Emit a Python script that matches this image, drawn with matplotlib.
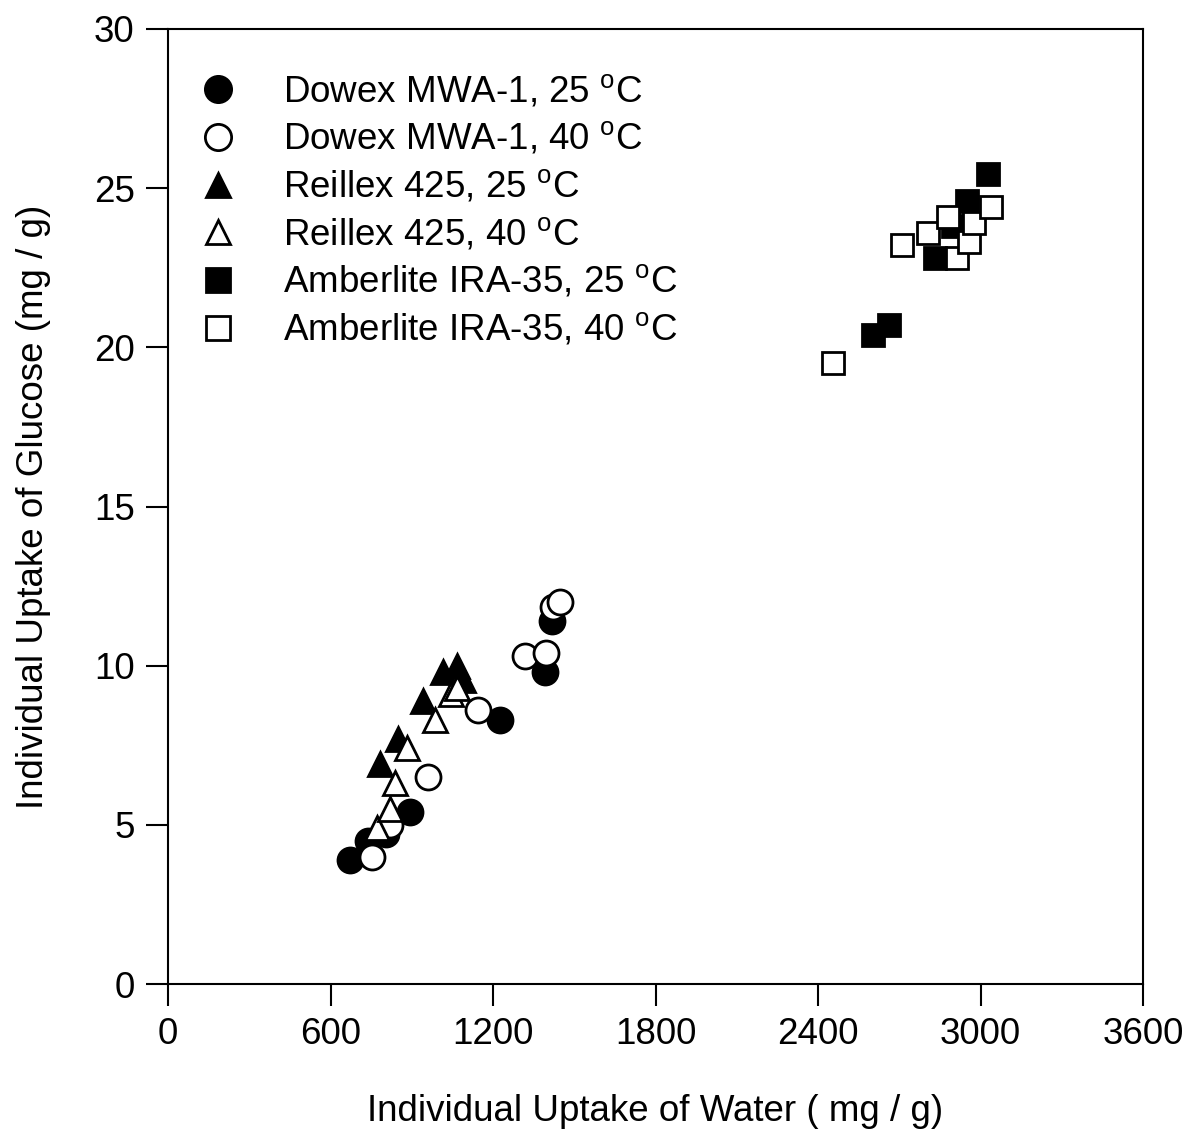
import matplotlib
matplotlib.use("Agg")
import matplotlib.pyplot as plt

plt.rcParams['font.family'] = ['Liberation Sans', 'DejaVu Sans']
plt.rcParams['mathtext.fontset'] = 'custom'
plt.rcParams['mathtext.rm'] = 'Liberation Sans'

# Water uptake (mg/g) vs glucose uptake (mg/g)
dowex25_x = [672, 740, 805, 893, 1226, 1392, 1418]
dowex25_y = [3.9, 4.5, 4.7, 5.4, 8.3, 9.8, 11.4]

dowex40_x = [752, 820, 960, 1145, 1318, 1396, 1422, 1447]
dowex40_y = [4.0, 5.0, 6.5, 8.6, 10.3, 10.4, 11.85, 12.0]

reillex25_x = [783, 849, 942, 1015, 1066, 1090]
reillex25_y = [6.9, 7.7, 8.9, 9.8, 10.0, 9.55]

reillex40_x = [771, 820, 838, 882, 986, 1045, 1067]
reillex40_y = [4.9, 5.5, 6.3, 7.4, 8.3, 9.1, 9.3]

amber25_x = [2603, 2662, 2832, 2899, 2950, 3028]
amber25_y = [20.4, 20.7, 22.8, 23.8, 24.6, 25.45]

amber40_x = [2455, 2710, 2806, 2880, 2913, 2958, 2976, 3039]
amber40_y = [19.5, 23.2, 23.6, 24.1, 22.8, 23.3, 23.9, 24.4]

x_ticks = [0, 600, 1200, 1800, 2400, 3000, 3600]
y_ticks = [0, 5, 10, 15, 20, 25, 30]

deg = r'$^{\mathrm{o}}$C'
series = [
    (dowex25_x, dowex25_y, 'o', 'black', 18, 'Dowex MWA-1, 25 ' + deg),
    (dowex40_x, dowex40_y, 'o', 'white', 18, 'Dowex MWA-1, 40 ' + deg),
    (reillex25_x, reillex25_y, '^', 'black', 17, 'Reillex 425, 25 ' + deg),
    (reillex40_x, reillex40_y, '^', 'white', 17, 'Reillex 425, 40 ' + deg),
    (amber25_x, amber25_y, 's', 'black', 16, 'Amberlite IRA-35, 25 ' + deg),
    (amber40_x, amber40_y, 's', 'white', 16, 'Amberlite IRA-35, 40 ' + deg),
]

FS = 26.5

fig = plt.figure(figsize=(11.91, 11.38), dpi=100)
ax = fig.add_axes([168 / 1191, 1 - 984 / 1138, 975 / 1191, 955 / 1138])

for xs, ys, m, fc, ms, lab in series:
    ax.plot(xs, ys, linestyle='none', marker=m, markersize=ms,
            markerfacecolor=fc, markeredgecolor='black', markeredgewidth=2,
            label=lab)

ax.set_xlim(0, 3600)
ax.set_ylim(0, 30)
ax.set_xticks(x_ticks)
ax.set_yticks(y_ticks)
ax.tick_params(direction='out', length=16, width=1.5, labelsize=FS, pad=8)
for s in ax.spines.values():
    s.set_linewidth(1.5)

ax.set_xlabel('Individual Uptake of Water ( mg / g)', fontsize=FS, labelpad=30)
ax.set_ylabel('Individual Uptake of Glucose (mg / g)', fontsize=FS, labelpad=31)

leg = ax.legend(loc='upper left', frameon=False, fontsize=FS,
                labelspacing=0.3, handlelength=1.0, handletextpad=1.27,
                borderpad=0.4, borderaxespad=0.0, markerscale=1.05,
                bbox_to_anchor=(0.0174, 0.969))

fig.savefig('out.png', dpi=100)
